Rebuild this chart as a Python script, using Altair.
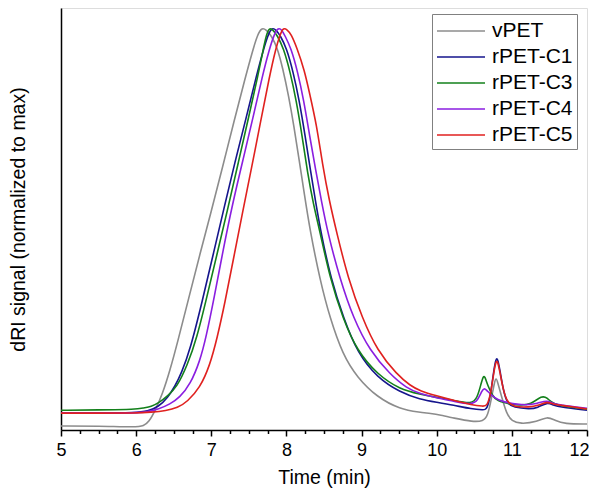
import altair as alt
import pandas as pd

series_names = ["vPET", "rPET-C1", "rPET-C3", "rPET-C4", "rPET-C5"]
series_colors = ["#8c8c8c", "#15158c", "#13801b", "#8a1ee0", "#e0211f"]

vpet_t = [5.0, 5.5, 6.0, 6.1, 6.17, 6.25, 6.35, 6.45, 6.55, 6.7, 6.85, 7.0, 7.15, 7.3, 7.45, 7.55, 7.62, 7.675, 7.73, 7.80,
          7.88, 7.95, 8.03, 8.10, 8.17, 8.24, 8.31, 8.45, 8.58, 8.75, 8.94, 9.21, 9.51, 9.78, 9.92, 10.05, 10.22, 10.48, 10.62, 10.68,
          10.73, 10.77, 10.79, 10.81, 10.86, 10.93, 11.0, 11.11, 11.34, 11.47, 11.57, 11.7, 12.0]
vpet_v = [0.010, 0.010, 0.007, 0.010, 0.020, 0.047, 0.089, 0.148, 0.217, 0.328, 0.438, 0.544, 0.653, 0.766, 0.874, 0.943, 0.985, 1.0, 0.995, 0.980,
          0.950, 0.900, 0.830, 0.755, 0.670, 0.585, 0.500, 0.370, 0.278, 0.187, 0.131, 0.081, 0.052, 0.044, 0.041, 0.037, 0.030, 0.020, 0.022, 0.035,
          0.080, 0.120, 0.130, 0.120, 0.085, 0.040, 0.022, 0.015, 0.020, 0.034, 0.024, 0.015, 0.015]

c1_t = [5.0, 5.5, 6.0, 6.15, 6.3, 6.42, 6.52, 6.6, 6.72, 6.88, 7.03, 7.18, 7.32, 7.47, 7.6, 7.7, 7.76, 7.81, 7.86, 7.92,
        8.0, 8.09, 8.17, 8.25, 8.32, 8.39, 8.46, 8.59, 8.76, 8.95, 9.21, 9.51, 9.78, 10.0, 10.22, 10.47, 10.62, 10.67, 10.72, 10.76,
        10.79, 10.81, 10.84, 10.89, 10.94, 11.02, 11.24, 11.34, 11.47, 11.55, 11.64, 12.0]
c1_v = [0.042, 0.042, 0.043, 0.046, 0.058, 0.080, 0.110, 0.140, 0.200, 0.320, 0.440, 0.560, 0.670, 0.780, 0.880, 0.950, 0.985, 1.0, 0.995, 0.980,
        0.950, 0.890, 0.820, 0.730, 0.645, 0.565, 0.490, 0.377, 0.278, 0.190, 0.130, 0.094, 0.076, 0.069, 0.062, 0.052, 0.050, 0.050, 0.090, 0.150,
        0.178, 0.178, 0.150, 0.095, 0.066, 0.056, 0.052, 0.055, 0.069, 0.062, 0.057, 0.049]

c3_t = [5.0, 5.5, 6.0, 6.1, 6.2, 6.3, 6.42, 6.54, 6.68, 6.81, 6.94, 7.08, 7.22, 7.36, 7.5, 7.62, 7.69, 7.73, 7.77, 7.82,
        7.88, 7.96, 8.05, 8.13, 8.21, 8.28, 8.36, 8.45, 8.58, 8.75, 8.94, 9.21, 9.51, 9.78, 10.0, 10.22, 10.47, 10.54, 10.59, 10.62,
        10.64, 10.68, 10.74, 10.8, 10.98, 11.11, 11.25, 11.40, 11.47, 11.55, 11.77, 12.0]
c3_v = [0.049, 0.050, 0.051, 0.055, 0.058, 0.067, 0.085, 0.106, 0.160, 0.230, 0.330, 0.440, 0.550, 0.665, 0.780, 0.880, 0.945, 0.980, 1.0, 0.995,
        0.980, 0.950, 0.890, 0.820, 0.730, 0.640, 0.560, 0.490, 0.377, 0.278, 0.197, 0.138, 0.101, 0.089, 0.081, 0.074, 0.064, 0.080, 0.115, 0.134,
        0.134, 0.110, 0.086, 0.072, 0.064, 0.062, 0.063, 0.086, 0.080, 0.064, 0.057, 0.052]

c4_t = [5.0, 5.5, 6.0, 6.15, 6.3, 6.45, 6.58, 6.72, 6.85, 6.93, 7.04, 7.16, 7.28, 7.42, 7.56, 7.68, 7.77, 7.84, 7.89, 7.94,
        7.98, 8.06, 8.15, 8.23, 8.31, 8.39, 8.47, 8.55, 8.71, 8.89, 9.11, 9.38, 9.6, 9.78, 10.0, 10.22, 10.47, 10.55, 10.6, 10.63,
        10.66, 10.72, 10.8, 11.02, 11.2, 11.34, 11.47, 11.55, 11.64, 12.0]
c4_v = [0.042, 0.042, 0.042, 0.045, 0.052, 0.064, 0.081, 0.113, 0.172, 0.230, 0.330, 0.450, 0.560, 0.670, 0.780, 0.880, 0.945, 0.985, 1.0, 0.995,
        0.980, 0.950, 0.890, 0.820, 0.730, 0.645, 0.565, 0.490, 0.377, 0.278, 0.197, 0.138, 0.104, 0.090, 0.080, 0.072, 0.062, 0.075, 0.097, 0.104,
        0.100, 0.088, 0.075, 0.064, 0.062, 0.066, 0.074, 0.066, 0.062, 0.054]

c5_t = [5.0, 5.5, 6.0, 6.2, 6.4, 6.55, 6.68, 6.85, 6.98, 7.08, 7.18, 7.3, 7.42, 7.54, 7.66, 7.77, 7.86, 7.92, 7.96, 8.01,
        8.06, 8.14, 8.24, 8.31, 8.40, 8.48, 8.57, 8.67, 8.82, 9.01, 9.21, 9.47, 9.65, 9.78, 10.0, 10.22, 10.47, 10.62, 10.67, 10.72,
        10.76, 10.79, 10.81, 10.84, 10.89, 10.94, 11.02, 11.24, 11.34, 11.47, 11.55, 11.64, 12.0]
c5_v = [0.042, 0.042, 0.042, 0.044, 0.048, 0.055, 0.070, 0.105, 0.160, 0.230, 0.315, 0.430, 0.545, 0.655, 0.770, 0.875, 0.950, 0.985, 1.0, 0.995,
        0.985, 0.950, 0.894, 0.835, 0.760, 0.660, 0.570, 0.490, 0.377, 0.278, 0.197, 0.138, 0.110, 0.097, 0.085, 0.074, 0.062, 0.059, 0.059, 0.090,
        0.145, 0.172, 0.172, 0.145, 0.095, 0.070, 0.057, 0.057, 0.060, 0.071, 0.064, 0.062, 0.052]

major_ticks = [5, 6, 7, 8, 9, 10, 11, 12]
minor_ticks = [5.25, 5.5, 5.75, 6.25, 6.5, 6.75, 7.25, 7.5, 7.75, 8.25, 8.5, 8.75,
               9.25, 9.5, 9.75, 10.25, 10.5, 10.75, 11.25, 11.5, 11.75]

rows = []
for name, ts, vs in zip(series_names,
                        [vpet_t, c1_t, c3_t, c4_t, c5_t],
                        [vpet_v, c1_v, c3_v, c4_v, c5_v]):
    assert len(ts) == len(vs), name
    for i, (t, v) in enumerate(zip(ts, vs)):
        rows.append({"series": name, "t": t, "v": v, "i": i})
df = pd.DataFrame(rows)

FONT = "Liberation Sans"

x_scale = alt.Scale(domain=[5, 12], nice=False, zero=False)
y_scale = alt.Scale(domain=[0, 1.049], nice=False, zero=False)

lines = alt.Chart(df).mark_line(strokeWidth=1.6, interpolate="basis").encode(
    x=alt.X("t:Q", scale=x_scale,
            axis=alt.Axis(values=major_ticks, title="Time (min)", orient="bottom",
                          tickSize=6, tickWidth=1.5, tickColor="black",
                          domainColor="black", domainWidth=1.5,
                          labelFontSize=18, labelFont=FONT, labelColor="black",
                          labelPadding=5, labelFlush=False,
                          labelAlign={"condition": {"test": "datum.value == 12", "value": "right"},
                                      "value": "center"},
                          labelOffset={"condition": {"test": "datum.value == 12", "value": 2},
                                       "value": 0},
                          titleFontSize=19.5, titleFont=FONT, titleFontWeight="normal",
                          titleColor="black", titlePadding=9, grid=False)),
    y=alt.Y("v:Q", scale=y_scale,
            axis=alt.Axis(title="dRI signal (normalized to max)", labels=False, ticks=False,
                          domainColor="black", domainWidth=1.5,
                          titleFontSize=19.5, titleFont=FONT, titleFontWeight="normal",
                          titleColor="black", titlePadding=33, grid=False)),
    color=alt.Color("series:N",
                    scale=alt.Scale(domain=series_names, range=series_colors),
                    sort=series_names,
                    legend=alt.Legend(title=None, orient="none", legendX=371, legendY=6,
                                      labelFontSize=21, labelFont=FONT, labelColor="black",
                                      symbolType="M-1,0H3", symbolSize=576,
                                      symbolStrokeWidth=1.6, labelOffset=30,
                                      rowPadding=3, padding=4,
                                      strokeColor="#808080", fillColor="white")),
    order=alt.Order("i:Q"),
    detail="series:N",
)

minor = alt.Chart(df).mark_point(opacity=0).encode(
    x=alt.X("t:Q", scale=x_scale,
            axis=alt.Axis(values=minor_ticks, orient="bottom", labels=False, domain=False,
                          tickSize=3.5, tickWidth=1.5, tickColor="black", title=None, grid=False)),
    y=alt.Y("v:Q", scale=y_scale, axis=None),
)

chart = alt.layer(lines, minor).resolve_axis(x="independent", y="independent").properties(
    width=526, height=422,
    autosize=alt.AutoSizeParams(type="none"),
    padding={"left": 53, "top": 0, "right": 2, "bottom": 62},
).configure_view(stroke="black", strokeWidth=1.5).configure(background="white")

chart.save("out.html", embed_options={"renderer": "svg", "actions": False})
